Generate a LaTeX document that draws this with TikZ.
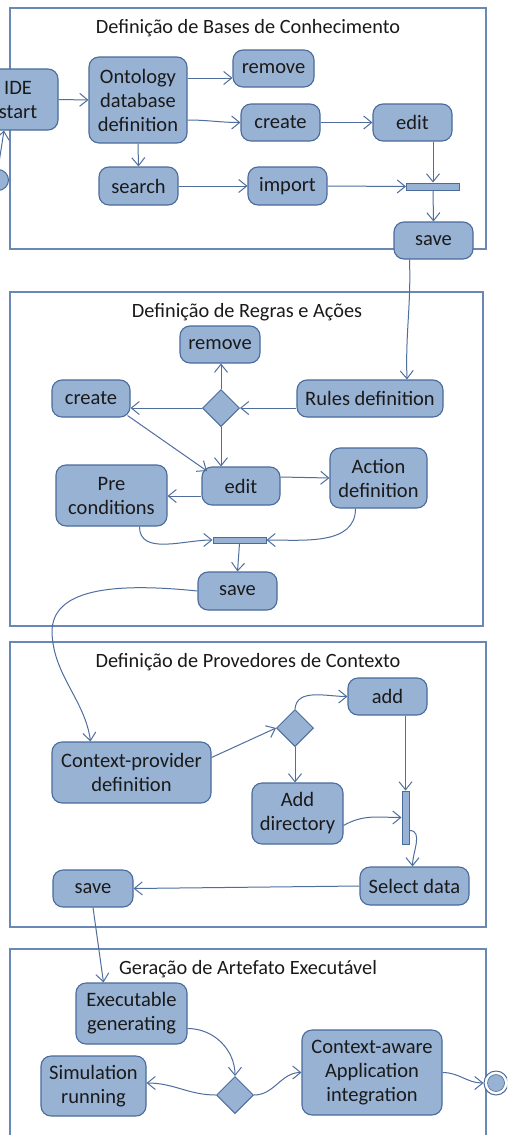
\documentclass[tikz,border=0pt]{standalone}
\usepackage{fontspec}
\setmainfont{Carlito}
\usetikzlibrary{arrows.meta,calc,shapes.geometric}
\definecolor{fillc}{HTML}{98B2D4}
\definecolor{bdr}{HTML}{4A6B9C}
\definecolor{linec}{HTML}{4F6E9E}
\definecolor{framec}{HTML}{6A88B4}
\definecolor{txt}{HTML}{1A1A1A}
\tikzset{
  act/.style={draw=bdr, fill=fillc, rounded corners=10pt, line width=1.1pt, align=center, inner sep=0pt, text=txt, font=\fontsize{20.5}{24}\selectfont},
  barbox/.style={draw=bdr, fill=fillc, line width=1pt, inner sep=0pt},
  decis/.style={diamond, draw=bdr, fill=fillc, line width=1pt, inner sep=0pt, minimum width=37pt, minimum height=37pt},
  frm/.style={draw=framec, line width=1.1pt},
  ttl/.style={text=txt, font=\fontsize{20.3}{24}\selectfont, inner sep=0pt},
  arr/.style={draw=linec, line width=1pt, -{Straight Barb[length=8pt,width=13pt]}},
}
\begin{document}
\begin{tikzpicture}[x=1pt,y=1pt]
\useasboundingbox (0,0) rectangle (507,-1135);
\clip (0,0) rectangle (507,-1135);
\fill[white] (0,0) rectangle (507,-1135);

% frames
\draw[frm] (10,-8) rectangle (486,-249);
\node[ttl] (t1) at (248,-28) {Definição de Bases de Conhecimento};
\draw[frm] (10,-292) rectangle (483,-626);
\node[ttl] (t2) at (247,-312) {Definição de Regras e Ações};
\draw[frm] (10,-642) rectangle (486,-927);
\node[ttl] (t3) at (248,-662) {Definição de Provedores de Contexto};
\draw[frm] (10,-949) rectangle (486,-1140);
\node[ttl] (t4) at (248,-969) {Geração de Artefato Executável};

% ---------- frame 1 ----------
\node[circle, draw=bdr, fill=fillc, line width=1pt, minimum size=21pt, inner sep=0pt] (init) at (-2,-180) {};
\node[act, minimum width=80pt, minimum height=61pt] (ide) at (18,-99.5) {IDE\\start};
\node[act, minimum width=98pt, minimum height=86pt] (ont) at (138,-100) {Ontology\\database\\definition};
\node[act, minimum width=81pt, minimum height=37pt] (rem1) at (273.5,-68.5) {remove};
\node[act, minimum width=79pt, minimum height=37pt] (cre1) at (280.5,-122.5) {create};
\node[act, minimum width=79pt, minimum height=37pt] (edt1) at (412.5,-122.5) {edit};
\node[act, minimum width=79pt, minimum height=38pt] (sea1) at (138.5,-186) {search};
\node[act, minimum width=79pt, minimum height=38pt] (imp1) at (287.5,-186) {import};
\node[barbox, minimum width=53pt, minimum height=7pt] (bar1) at (433,-186.5) {};
\node[act, minimum width=79pt, minimum height=37pt] (sav1) at (433.5,-240.5) {save};

\draw[arr] (init.north) -- ([xshift=-14pt]ide.south);
\draw[arr] (ide.east) -- (ont.west);
\draw[arr] (ont.east |- 0,-78) -- (rem1.west |- 0,-78);
\draw[arr] (ont.east |- 0,-120) to[out=0,in=180] (cre1.west);
\draw[arr] (cre1.east) -- (edt1.west);
\draw[arr] (ont.south) -- (sea1.north);
\draw[arr] (sea1.east) -- (imp1.west);
\draw[arr] (imp1.east) -- (bar1.west);
\draw[arr] (bar1.north |- edt1.south) -- (bar1.north);
\draw[arr] (bar1.south) -- (sav1.north);

% ---------- frame 2 ----------
\node[act, minimum width=80pt, minimum height=37pt] (rem2) at (220,-344.5) {remove};
\node[act, minimum width=78pt, minimum height=37pt] (cre2) at (91,-398.5) {create};
\node[decis] (d2) at (221,-408) {};
\node[act, minimum width=146pt, minimum height=37pt] (rul) at (370,-398.5) {Rules definition};
\node[act, minimum width=78pt, minimum height=38pt] (edt2) at (241,-486) {edit};
\node[act, minimum width=111pt, minimum height=61pt] (pre) at (111.5,-495.5) {Pre\\conditions};
\node[act, minimum width=97pt, minimum height=60pt] (act) at (378.5,-478) {Action\\definition};
\node[barbox, minimum width=53pt, minimum height=6pt] (bar2) at (239.5,-540) {};
\node[act, minimum width=79pt, minimum height=38pt] (sav2) at (237.5,-591) {save};

\draw[arr] ([xshift=-24pt]sav1.south) to[out=-88,in=92] ([xshift=37pt]rul.north);
\draw[arr] (rul.west |- d2.east) -- (d2.east);
\draw[arr] (d2.north) -- (d2.north |- rem2.south);
\draw[arr] (d2.west) -- (cre2.east |- d2.west);
\draw[arr] (d2.south) -- (d2.south |- edt2.north);
\draw[arr] ([xshift=-3pt,yshift=2pt]cre2.south east) -- (207,-471);
\draw[arr] (edt2.west |- 0,-496) -- (pre.east |- 0,-496);
\draw[arr] (edt2.east |- 0,-477) -- (act.west);
\draw[arr] ([xshift=28pt]pre.south) to[out=-90,in=180] (bar2.west);
\draw[arr] ([xshift=-23pt]act.south) to[out=-90,in=0] (bar2.east);
\draw[arr] (bar2.south) -- (sav2.north);

% ---------- frame 3 ----------
\node[act, minimum width=159pt, minimum height=61pt] (ctx) at (131.5,-772.5) {Context-provider\\definition};
\node[decis] (d3) at (295,-728) {};
\node[act, minimum width=79pt, minimum height=37pt] (add) at (387.5,-696.5) {add};
\node[act, minimum width=91pt, minimum height=61pt] (dir) at (297.5,-813.5) {Add\\directory};
\node[barbox, minimum width=7pt, minimum height=53pt] (bar3) at (405.5,-817.5) {};
\node[act, minimum width=109pt, minimum height=38pt] (sel) at (414.5,-886) {Select data};
\node[act, minimum width=80pt, minimum height=37pt] (sav3) at (93,-888.5) {save};

\draw[arr] (sav2.west) .. controls (110,-582) and (52,-590) .. (52,-632) .. controls (53,-675) and (85,-700) .. ([xshift=-41pt]ctx.north);
\draw[arr] ([yshift=15pt]ctx.east) -- (d3.west);
\draw[arr] (d3.north) to[out=85,in=180] (add.west);
\draw[arr] (d3.south) -- (d3.south |- dir.north);
\draw[arr] (bar3.north |- add.south) -- (bar3.north);
\draw[arr] ([yshift=-12pt]dir.east) to[out=30,in=180] (bar3.west);
\draw[arr] ([yshift=-13pt]bar3.east) to[out=0,in=90] ([xshift=-2pt]sel.north);
\draw[arr] (sel.west) -- (sav3.east);

% ---------- frame 4 ----------
\node[act, minimum width=111pt, minimum height=61pt] (exe) at (131.5,-1013.5) {Executable\\generating};
\node[act, minimum width=105pt, minimum height=60pt] (sim) at (93.5,-1086) {Simulation\\running};
\node[decis] (d4) at (235,-1095) {};
\node[act, minimum width=140pt, minimum height=85pt] (caw) at (372,-1072.5) {Context-aware\\Application\\integration};
\node[circle, draw=bdr, fill=white, line width=1pt, minimum size=24pt, inner sep=0pt] (endn) at (496,-1083) {};
\node[circle, fill=fillc, draw=bdr, line width=0.6pt, minimum size=17pt, inner sep=0pt] (endi) at (endn.center) {};

\draw[arr] (sav3.south) -- ([xshift=-28pt]exe.north);
\draw[arr] ([yshift=-15pt]exe.east) to[out=0,in=90] (d4.north);
\draw[arr] (d4.west) to[out=180,in=0] ([yshift=3pt]sim.east);
\draw[arr] (d4.east) to[out=0,in=180] (caw.west);
\draw[arr] (caw.east) to[out=0,in=180] (endn.west);
\end{tikzpicture}
\end{document}
